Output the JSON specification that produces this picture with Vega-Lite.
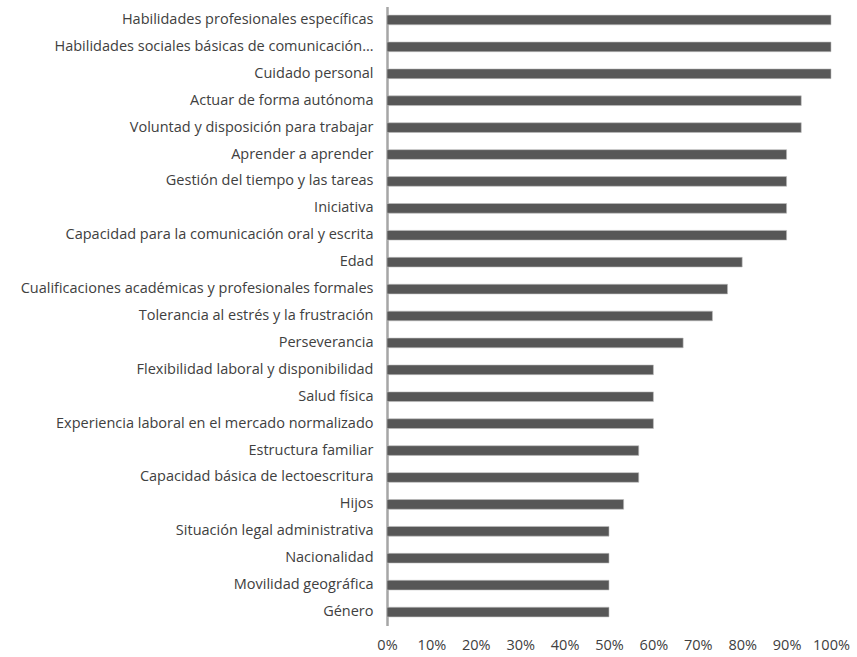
{
  "$schema": "https://vega.github.io/schema/vega-lite/v6.json",
  "autosize": {"type": "none"},
  "padding": {"left": 387, "top": 6.5, "right": 26, "bottom": 31.5},
  "width": 444,
  "height": 619,
  "background": "white",
  "config": {"view": {"stroke": null}, "font": "Open Sans"},
  "data": {"values": [
    {"item": "Habilidades profesionales específicas", "value": 1.0},
    {"item": "Habilidades sociales básicas de comunicación…", "value": 1.0},
    {"item": "Cuidado personal", "value": 1.0},
    {"item": "Actuar de forma autónoma", "value": 0.933},
    {"item": "Voluntad y disposición para trabajar", "value": 0.933},
    {"item": "Aprender a aprender", "value": 0.9},
    {"item": "Gestión del tiempo y las tareas", "value": 0.9},
    {"item": "Iniciativa", "value": 0.9},
    {"item": "Capacidad para la comunicación oral y escrita", "value": 0.9},
    {"item": "Edad", "value": 0.8},
    {"item": "Cualificaciones académicas y profesionales formales", "value": 0.767},
    {"item": "Tolerancia al estrés y la frustración", "value": 0.733},
    {"item": "Perseverancia", "value": 0.667},
    {"item": "Flexibilidad laboral y disponibilidad", "value": 0.6},
    {"item": "Salud física", "value": 0.6},
    {"item": "Experiencia laboral en el mercado normalizado", "value": 0.6},
    {"item": "Estructura familiar", "value": 0.567},
    {"item": "Capacidad básica de lectoescritura", "value": 0.567},
    {"item": "Hijos", "value": 0.533},
    {"item": "Situación legal administrativa", "value": 0.5},
    {"item": "Nacionalidad", "value": 0.5},
    {"item": "Movilidad geográfica", "value": 0.5},
    {"item": "Género", "value": 0.5}
  ]},
  "mark": {"type": "bar", "color": "#575757", "stroke": "#bdbdbd", "strokeWidth": 0.6},
  "encoding": {
    "y": {
      "field": "item", "type": "nominal", "sort": null,
      "scale": {"paddingInner": 0.64, "paddingOuter": 0.32},
      "axis": {"title": null, "ticks": false, "domainColor": "#a6a6a6", "domainWidth": 2.5,
               "labelFontSize": 14.5, "labelColor": "#404040", "labelPadding": 14, "labelLimit": 400}
    },
    "x": {
      "field": "value", "type": "quantitative",
      "scale": {"domain": [0, 1], "nice": false},
      "axis": {"title": null, "format": ".0%", "values": [0, 0.1, 0.2, 0.3, 0.4, 0.5, 0.6, 0.7, 0.8, 0.9, 1.0],
               "domain": false, "ticks": false, "grid": false, "labelFontSize": 14.5,
               "labelOverlap": false, "labelFlush": false, "labelBound": false,
               "labelColor": "#404040", "labelPadding": 13}
    }
  }
}
